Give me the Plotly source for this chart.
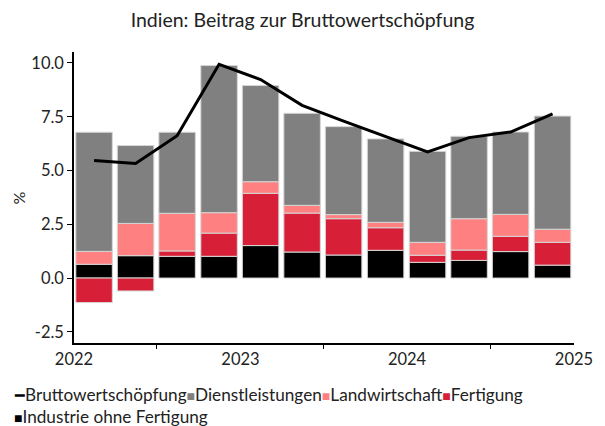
import pandas as pd
import plotly.graph_objects as go

# ---- data ----
quarters = ["2022Q1", "2022Q2", "2022Q3", "2022Q4",
            "2023Q1", "2023Q2", "2023Q3", "2023Q4",
            "2024Q1", "2024Q2", "2024Q3", "2024Q4"]
industrie = [0.64, 1.04, 1.01, 1.01, 1.51, 1.21, 1.07, 1.29, 0.73, 0.82, 1.23, 0.60]
fertigung = [-1.14, -0.60, 0.25, 1.08, 2.43, 1.81, 1.69, 1.05, 0.33, 0.48, 0.71, 1.06]
landwirtschaft = [0.60, 1.50, 1.75, 0.95, 0.54, 0.36, 0.19, 0.25, 0.60, 1.46, 1.02, 0.61]
dienstleistungen = [5.54, 3.62, 3.77, 6.84, 4.47, 4.28, 4.09, 3.88, 4.23, 3.83, 3.83, 5.26]
bws = [5.46, 5.33, 6.62, 9.94, 9.23, 8.03, 7.30, 6.58, 5.86, 6.53, 6.79, 7.63]
year_ticks = ["2022", "2023", "2024", "2025"]
mid_ticks = ["2022-07-01", "2023-07-01", "2024-07-01"]

# quarter midpoints
per = pd.PeriodIndex(quarters, freq="Q")
x = [(p.start_time + (p.end_time - p.start_time) / 2).strftime("%Y-%m-%d") for p in per]

C_GRAY = "#808080"
C_PINK = "#ff8080"
C_RED = "#d72038"
C_BLACK = "#000000"
FONT = "Lato"
TXT = "#222222"

bar_w = 80 * 24 * 3600 * 1000  # ms
line_style = dict(color="#d6d6d6", width=1)

fig = go.Figure()
for name, vals, col in [("Industrie ohne Fertigung", industrie, C_BLACK),
                        ("Fertigung", fertigung, C_RED),
                        ("Landwirtschaft", landwirtschaft, C_PINK),
                        ("Dienstleistungen", dienstleistungen, C_GRAY)]:
    fig.add_trace(go.Bar(x=x, y=vals, name=name, width=bar_w,
                         marker=dict(color=col, line=line_style),
                         showlegend=False))
fig.add_trace(go.Scatter(x=x, y=bws, name="Bruttowertschöpfung", mode="lines",
                         line=dict(color="black", width=3), showlegend=False))

fig.update_layout(
    width=605, height=426,
    margin=dict(l=74, r=22, t=52, b=83),
    barmode="relative",
    plot_bgcolor="white", paper_bgcolor="white",
    font=dict(family=FONT, size=16, color=TXT),
    title=dict(text="Indien: Beitrag zur Bruttowertschöpfung", x=0.5, xanchor="center",
               y=1 - 20 / 426, yanchor="middle", font=dict(size=19.5, color=TXT)),
)
fig.update_xaxes(
    type="date", range=["2022-01-01", "2025-01-01"],
    tickvals=[f"{y}-01-01" for y in year_ticks], ticktext=year_ticks,
    ticks="", showgrid=False, zeroline=False,
    showline=True, linecolor="black", linewidth=1.5,
    minor=dict(tickvals=mid_ticks, ticks="outside", ticklen=4, tickcolor="black",
               tickwidth=1, showgrid=False),
    tickfont=dict(size=16.5),
)
fig.update_yaxes(
    range=[-3.02, 10.51], tickvals=[-2.5, 0, 2.5, 5, 7.5, 10],
    ticktext=["-2.5", "0.0", "2.5", "5.0", "7.5", "10.0"],
    ticks="outside", ticklen=5, tickcolor="black", showgrid=False, zeroline=False,
    showline=True, linecolor="black", linewidth=1.5, tickfont=dict(size=16.5),
)

# y-axis title
fig.add_annotation(text="%", xref="paper", yref="paper", x=(18 - 74) / 509, y=0.5,
                   textangle=-90, showarrow=False, font=dict(size=16),
                   xanchor="center", yanchor="middle")

# legend rows (text with coloured symbols)
def sym(col, ch="■", size=14):
    return f"<span style='color:{col};font-size:{size}px'>{ch}</span>"

row1 = (sym("black", "━", 16) + "Bruttowertschöpfung" + sym(C_GRAY) + "Dienstleistungen"
        + sym(C_PINK) + "Landwirtschaft" + sym(C_RED) + "Fertigung")
row2 = sym("black") + "Industrie ohne Fertigung"
for txt, ypx in [(row1, 394), (row2, 416)]:
    fig.add_annotation(text=txt, xref="paper", yref="paper",
                       x=(11 - 74) / 509, y=-(ypx - 343) / 291,
                       xanchor="left", yanchor="middle", showarrow=False,
                       font=dict(size=17.2, color=TXT))

fig.write_html("out.html", config={"displayModeBar": False},
               post_script="document.body.style.margin='0';")
